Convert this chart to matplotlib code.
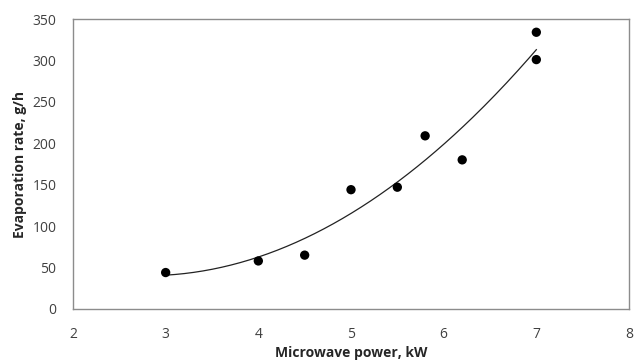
import numpy as np
import matplotlib
matplotlib.use("Agg")
import matplotlib.pyplot as plt

plt.rcParams['font.family'] = ['Open Sans', 'DejaVu Sans']

power_kw = [3.0, 4.0, 4.5, 5.0, 5.5, 5.8, 6.2, 7.0, 7.0]
evap_rate = [44, 58, 65, 144, 147, 209, 180, 334, 301]
x_ticks = [2, 3, 4, 5, 6, 7, 8]
y_ticks = [0, 50, 100, 150, 200, 250, 300, 350]

fig = plt.figure(figsize=(6.34, 3.63), dpi=100)
ax = fig.add_axes([73/634, 1 - 309/363, (629-73)/634, (309-19)/363])

coef = np.polyfit(power_kw, evap_rate, 2)
xs = np.linspace(min(power_kw), max(power_kw), 200)
ax.plot(xs, np.polyval(coef, xs), color='#222222', lw=0.9, zorder=2)
ax.scatter(power_kw, evap_rate, s=45, color='black', zorder=3, edgecolors='none')

ax.set_xlim(2, 8)
ax.set_ylim(0, 350)
ax.set_xticks(x_ticks)
ax.set_yticks(y_ticks)
ax.tick_params(length=0, labelsize=10, colors='#404040')
ax.tick_params(axis='y', pad=12)
ax.tick_params(axis='x', pad=13)
for s in ax.spines.values():
    s.set_color('#8c8c8c')
    s.set_linewidth(1.0)
ax.set_xlabel('Microwave power, kW', fontsize=10, fontweight='bold', color='#262626', labelpad=3)
ax.set_ylabel('Evaporation rate, g/h', fontsize=10, fontweight='bold', color='#262626', labelpad=4)

fig.savefig('out.png', dpi=100)
